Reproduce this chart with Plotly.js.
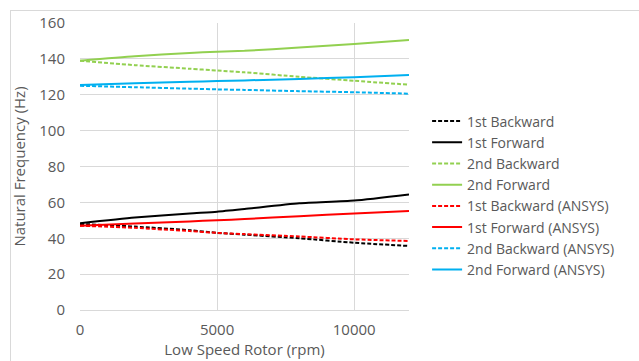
<!DOCTYPE html>
<html><head><meta charset="utf-8">
<script src="https://cdn.plot.ly/plotly-3.0.1.min.js"></script>
<style>
body{margin:0;padding:0;background:#fff;}
#frame{position:absolute;left:10px;top:10px;width:640px;height:360px;border:1px solid #d9d9d9;box-sizing:border-box;}
#chart{position:absolute;left:0;top:0;width:639px;height:361px;}
</style></head>
<body>
<div id="frame"></div>
<div id="chart"></div>
<script>
const rpm = [0, 2000, 4000, 5000, 6000, 8000, 10000, 12000];
const firstBackward = [48, 46.5, 44.5, 43, 42, 40, 37.5, 35.7];
const firstForward = [48.3, 51.5, 53.8, 54.8, 56.3, 59.5, 61, 64.4];
const secondBackward = [139, 136.5, 134.5, 133.5, 132.5, 130, 127.8, 125.6];
const secondForward = [139, 141.5, 143.3, 144, 144.5, 146.3, 148.3, 150.5];
const firstBackwardAnsys = [47, 45.8, 44, 43, 42.3, 41, 39.4, 38.5];
const firstForwardAnsys = [47, 48.2, 49.4, 50, 50.7, 52.3, 53.8, 55.2];
const secondBackwardAnsys = [125, 124.2, 123.4, 123, 122.7, 122, 121.4, 120.6];
const secondForwardAnsys = [125.5, 126.4, 127.2, 127.6, 128, 128.8, 129.8, 131];
const names = ["1st Backward","1st Forward","2nd Backward","2nd Forward","1st Backward (ANSYS)","1st Forward (ANSYS)","2nd Backward (ANSYS)","2nd Forward (ANSYS)"];
const series = [firstBackward, firstForward, secondBackward, secondForward, firstBackwardAnsys, firstForwardAnsys, secondBackwardAnsys, secondForwardAnsys];
const colors = ["#000000","#000000","#92d050","#92d050","#ff0000","#ff0000","#00b0f0","#00b0f0"];
const dashes = ["4px,2px","solid","4px,2px","solid","4px,2px","solid","4px,2px","solid"];
const traces = series.map((s,i)=>({x:rpm,y:s,name:names[i],type:"scatter",mode:"lines",
  line:{color:colors[i],width:2,dash:dashes[i],shape:"spline",smoothing:0.6}}));
const layout = {
  width:639,height:361,
  margin:{l:80,r:230,t:23,b:51},
  paper_bgcolor:"rgba(0,0,0,0)",plot_bgcolor:"#fff",
  font:{family:"Open Sans, Liberation Sans, sans-serif",color:"#595959",size:13},
  showlegend:true,
  legend:{x:1.055,xanchor:"left",y:0.399,yanchor:"middle",font:{size:14,color:"#595959"},bgcolor:"rgba(0,0,0,0)"},
  xaxis:{range:[0,12000],tick0:0,dtick:5000,tickformat:"d",showgrid:true,gridcolor:"#d9d9d9",zeroline:false,
    showline:false,ticks:"",tickfont:{size:15},ticklabelstandoff:9,
    title:{text:"Low Speed Rotor (rpm)",font:{size:15},standoff:2}},
  yaxis:{range:[0,160],dtick:20,showgrid:true,gridcolor:"#d9d9d9",zeroline:true,zerolinecolor:"#d9d9d9",zerolinewidth:1,
    showline:false,ticks:"",tickfont:{size:15},ticklabelstandoff:14,
    title:{text:"Natural Frequency (Hz)",font:{size:15},standoff:10}}
};
Plotly.newPlot("chart",traces,layout,{displayModeBar:false,staticPlot:true});
</script>
</body></html>
